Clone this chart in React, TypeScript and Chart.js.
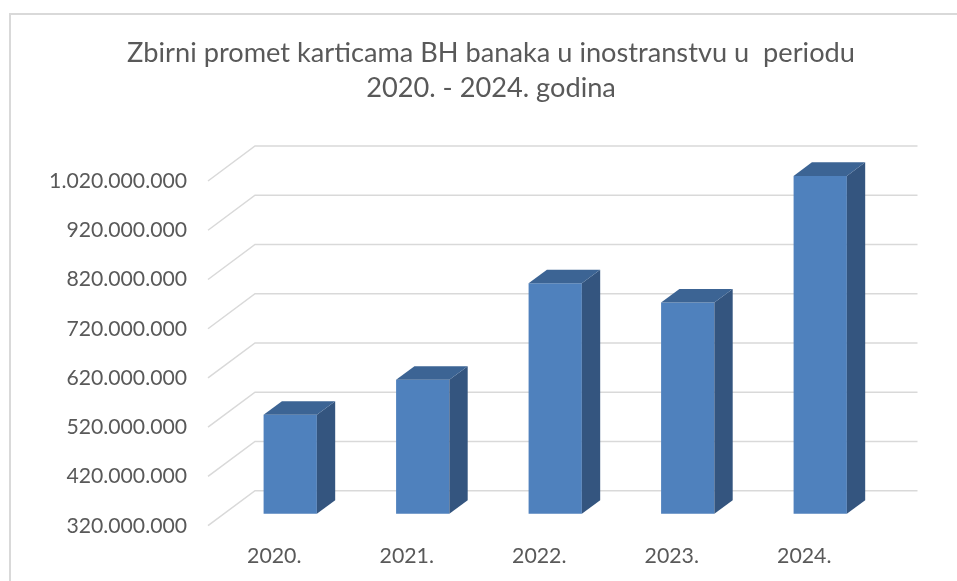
import React, { useEffect, useRef } from 'react';
import { Chart, registerables } from 'chart.js';

Chart.register(...registerables);

const categories = ['2020.', '2021.', '2022.', '2023.', '2024.'];
const values = [521000000, 592000000, 788000000, 749000000, 1006000000];
const titleLines = ['Zbirni promet karticama BH banaka u inostranstvu u  periodu', '2020. - 2024. godina'];
const yMin = 320000000;
const yMax = 1020000000;
const yStep = 100000000;

const FONT = 'Lato';
const TEXT = '#595959';
const GRID = '#d9d9d9';
const FRONT = '#4F81BD';
const SIDE = '#34557F';
const TOP = '#3C6494';
const DEPTH_X = 47;
const DEPTH_Y = -35;
const BAR_FRONT = 0.34;
const BAR_DEPTH = 0.39;

const fmt = (v: number) => String(Math.round(v)).replace(/\B(?=(\d{3})+(?!\d))/g, '.');

const depthPlugin = {
  id: 'depth3d',
  beforeDraw(chart: any) {
    const { ctx, width, height } = chart;
    ctx.save();
    ctx.fillStyle = '#ffffff';
    ctx.fillRect(0, 0, width, height);
    ctx.strokeStyle = GRID;
    ctx.lineWidth = 2;
    ctx.beginPath();
    ctx.moveTo(10, height);
    ctx.lineTo(10, 14);
    ctx.lineTo(width, 14);
    ctx.stroke();
    ctx.fillStyle = TEXT;
    ctx.font = `27.2px ${FONT}`;
    ctx.textAlign = 'center';
    ctx.textBaseline = 'alphabetic';
    ctx.fillText(titleLines[0], 491, 62);
    ctx.fillText(titleLines[1], 491, 96.5);
    ctx.restore();
  },
  beforeDatasetsDraw(chart: any) {
    const { ctx, chartArea } = chart;
    const ys = chart.scales.y;
    ctx.save();
    ctx.strokeStyle = GRID;
    ctx.lineWidth = 1.5;
    ys.ticks.forEach((t: any) => {
      const py = ys.getPixelForValue(t.value);
      ctx.beginPath();
      ctx.moveTo(chartArea.left, py);
      ctx.lineTo(chartArea.left + DEPTH_X, py + DEPTH_Y);
      ctx.lineTo(chartArea.right + DEPTH_X, py + DEPTH_Y);
      ctx.stroke();
    });
    ctx.restore();
    ctx.save();
    ctx.translate(DEPTH_X * BAR_FRONT, DEPTH_Y * BAR_FRONT);
  },
  afterDatasetsDraw(chart: any) {
    const { ctx } = chart;
    const meta = chart.getDatasetMeta(0);
    const dx = DEPTH_X * BAR_DEPTH;
    const dy = DEPTH_Y * BAR_DEPTH;
    meta.data.forEach((bar: any) => {
      const { x, y, base, width } = bar.getProps(['x', 'y', 'base', 'width'], true);
      const l = x - width / 2;
      const r = x + width / 2;
      ctx.fillStyle = SIDE;
      ctx.beginPath();
      ctx.moveTo(r, y);
      ctx.lineTo(r + dx, y + dy);
      ctx.lineTo(r + dx, base + dy);
      ctx.lineTo(r, base);
      ctx.closePath();
      ctx.fill();
      ctx.fillStyle = TOP;
      ctx.beginPath();
      ctx.moveTo(l, y);
      ctx.lineTo(l + dx, y + dy);
      ctx.lineTo(r + dx, y + dy);
      ctx.lineTo(r, y);
      ctx.closePath();
      ctx.fill();
    });
    ctx.restore();
  },
};

export default function App() {
  const ref = useRef<HTMLCanvasElement>(null);
  useEffect(() => {
    const chart = new Chart(ref.current as HTMLCanvasElement, {
      type: 'bar',
      data: {
        labels: categories,
        datasets: [
          {
            data: values,
            base: yMin,
            backgroundColor: FRONT,
            borderWidth: 0,
            barPercentage: 0.402,
            categoryPercentage: 1,
            clip: false as any,
          },
        ],
      },
      options: {
        responsive: false,
        animation: false,
        devicePixelRatio: 1,
        layout: { padding: { top: 181, left: 0, right: 86.5, bottom: 0 } },
        plugins: {
          legend: { display: false },
          tooltip: { enabled: false },
          title: { display: false },
        },
        scales: {
          x: {
            grid: { display: false, drawTicks: false },
            border: { display: false },
            ticks: { color: TEXT, font: { family: FONT, size: 21.3 }, padding: 18, maxRotation: 0 },
            afterFit: (s: any) => {
              s.height = 55.3;
            },
          },
          y: {
            min: yMin,
            max: yMax,
            beginAtZero: false,
            grid: { display: false, drawTicks: false },
            border: { display: false },
            ticks: {
              stepSize: yStep,
              color: TEXT,
              font: { family: FONT, size: 21.2 },
              padding: 21,
              callback: (v: any) => fmt(Number(v)),
            },
            afterFit: (s: any) => {
              s.width = 208;
            },
          },
        },
      },
      plugins: [depthPlugin],
    });
    return () => chart.destroy();
  }, []);
  return (
    <div style={{ position: 'fixed', left: 0, top: 0, width: 957, height: 581, background: '#fff' }}>
      <canvas ref={ref} width={957} height={581} style={{ display: 'block', width: 957, height: 581 }} />
    </div>
  );
}
